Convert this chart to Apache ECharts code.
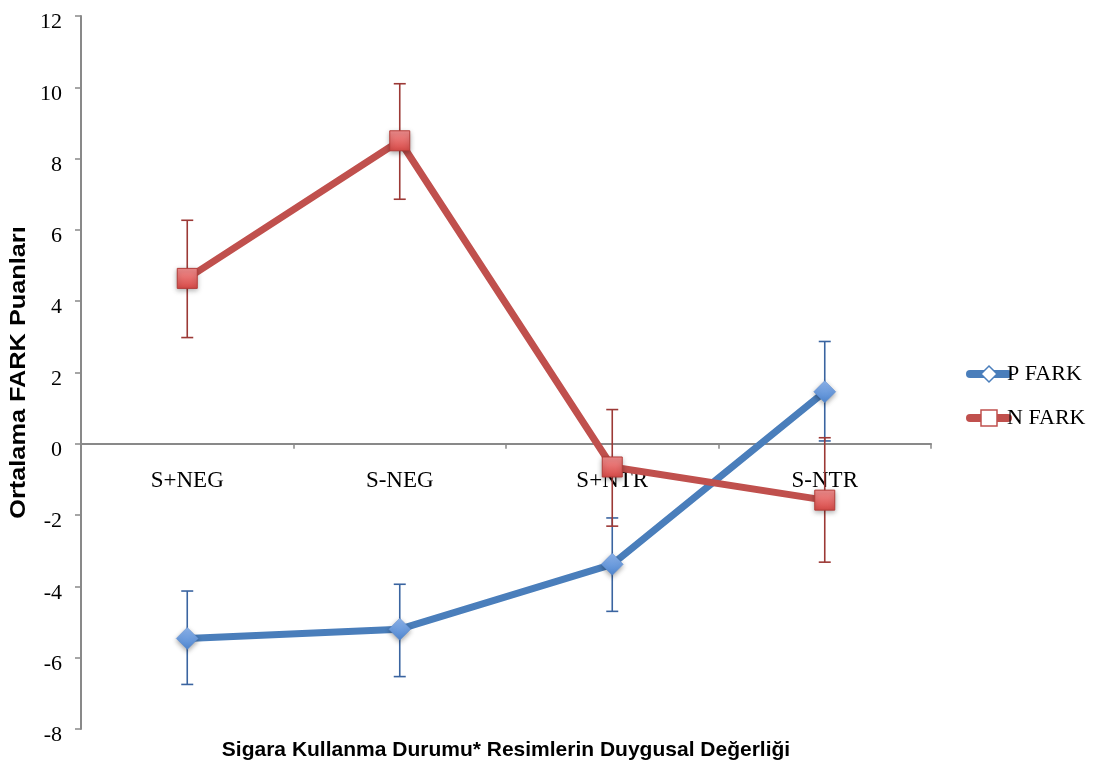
<!DOCTYPE html>
<html>
<head>
<meta charset="utf-8">
<script src="https://cdn.jsdelivr.net/npm/echarts@6/dist/echarts.min.js"></script>
<style>
html,body{margin:0;padding:0;background:#fff;}
#chart{width:1098px;height:766px;}
</style>
</head>
<body>
<div id="chart"></div>
<script>
var categories = ['S+NEG', 'S-NEG', 'S+NTR', 'S-NTR'];
var pMean = [-5.46, -5.20, -3.38, 1.46];
var pUpper = [-4.13, -3.94, -2.08, 2.87];
var pLower = [-6.75, -6.53, -4.70, 0.08];
var nMean = [4.64, 8.50, -0.65, -1.58];
var nUpper = [6.27, 10.10, 0.96, 0.17];
var nLower = [2.98, 6.86, -2.31, -3.32];
var yTicks = {min: -8, max: 12, interval: 2};
var yTitle = 'Ortalama FARK Puanları';
var xTitle = 'Sigara Kullanma Durumu* Resimlerin Duygusal Değerliği';

var W = 1098, H = 766;
var G = {left: 81, right: 167, top: 16, bottom: 37};
var serif = 'Liberation Serif, Times New Roman, serif';
var sans = 'Liberation Sans, Arial, sans-serif';

var chart = echarts.init(document.getElementById('chart'));

function errSeries(up, lo, color) {
  return {
    type: 'custom',
    z: 2,
    silent: true,
    data: categories.map(function (c, i) { return [i, up[i], lo[i]]; }),
    encode: {x: 0, y: [1, 2]},
    renderItem: function (params, api) {
      var x = api.value(0);
      var top = api.coord([x, api.value(1)]);
      var bot = api.coord([x, api.value(2)]);
      var hw = 6;
      var st = {stroke: color, lineWidth: 1.6};
      return {
        type: 'group',
        children: [
          {type: 'line', shape: {x1: top[0], y1: top[1], x2: bot[0], y2: bot[1]}, style: st},
          {type: 'line', shape: {x1: top[0] - hw, y1: top[1], x2: top[0] + hw, y2: top[1]}, style: st},
          {type: 'line', shape: {x1: bot[0] - hw, y1: bot[1], x2: bot[0] + hw, y2: bot[1]}, style: st}
        ]
      };
    }
  };
}

var blue = '#4a7ebb';
var red = '#c0504d';

var option = {
  animation: false,
  backgroundColor: '#fff',
  grid: G,
  legend: {
    orient: 'vertical',
    left: 961, top: 358,
    itemWidth: 38, itemHeight: 20, itemGap: 22,
    textStyle: {fontFamily: serif, fontSize: 22, color: '#000', padding: [0, 0, 0, -6]},
    data: [
      {name: 'P FARK', itemStyle: {color: '#fff', borderColor: blue, borderWidth: 1.5},
        lineStyle: {color: blue, width: 8, cap: 'round'}},
      {name: 'N FARK', itemStyle: {color: '#fff', borderColor: red, borderWidth: 1.5},
        lineStyle: {color: red, width: 8, cap: 'round'}}
    ]
  },
  graphic: [
    {
      type: 'text', x: 19, y: G.top + (H - G.top - G.bottom) / 2, rotation: Math.PI / 2, scaleX: 1.15,
      style: {text: yTitle, font: 'bold 22px ' + sans, fill: '#000', align: 'center', verticalAlign: 'middle'}
    },
    {
      type: 'text', x: G.left + (W - G.left - G.right) / 2, y: 750,
      style: {text: xTitle, font: 'bold 21px ' + sans, fill: '#000', align: 'center', verticalAlign: 'middle'}
    }
  ],
  xAxis: {
    type: 'category',
    data: categories,
    boundaryGap: true,
    axisLine: {onZero: true, lineStyle: {color: '#898989', width: 2}},
    axisTick: {show: true, inside: false, length: 5, lineStyle: {color: '#898989', width: 1.5}},
    axisLabel: {show: false},
    splitLine: {show: false}
  },
  yAxis: {
    type: 'value',
    min: yTicks.min, max: yTicks.max, interval: yTicks.interval,
    axisLine: {show: true, lineStyle: {color: '#898989', width: 2}},
    axisTick: {show: true, length: 6, lineStyle: {color: '#898989', width: 1.5}},
    axisLabel: {margin: 19, fontFamily: serif, fontSize: 22, color: '#000', verticalAlign: 'top', lineHeight: 13},
    splitLine: {show: false}
  },
  series: [
    {
      type: 'custom',
      z: 1,
      silent: true,
      data: categories.map(function (c, i) { return [i, 0]; }),
      encode: {x: 0, y: 1},
      renderItem: function (params, api) {
        var p = api.coord([api.value(0), api.value(1)]);
        return {
          type: 'text', x: p[0], y: p[1] + 26,
          style: {text: categories[params.dataIndex], font: '23px ' + serif, fill: '#000', align: 'center', verticalAlign: 'top'}
        };
      }
    },
    errSeries(pUpper, pLower, '#3a64a0'),
    errSeries(nUpper, nLower, '#9c3936'),
    {
      name: 'P FARK', type: 'line', z: 3, data: pMean,
      symbol: 'diamond', symbolSize: 22,
      lineStyle: {color: blue, width: 7},
      itemStyle: {
        color: new echarts.graphic.LinearGradient(0, 0, 0, 1, [{offset: 0, color: '#8db4ec'}, {offset: 1, color: '#4f86cf'}]),
        borderColor: '#5a8ad0', borderWidth: 0.5,
        shadowBlur: 5, shadowColor: 'rgba(0,0,0,0.35)', shadowOffsetY: 2
      }
    },
    {
      name: 'N FARK', type: 'line', z: 3, data: nMean,
      symbol: 'rect', symbolSize: 20,
      lineStyle: {color: red, width: 7},
      itemStyle: {
        color: new echarts.graphic.LinearGradient(0, 0, 0, 1, [{offset: 0, color: '#f39090'}, {offset: 1, color: '#d64a47'}]),
        borderColor: '#b33c39', borderWidth: 1,
        shadowBlur: 5, shadowColor: 'rgba(0,0,0,0.35)', shadowOffsetY: 2
      }
    }
  ]
};
chart.setOption(option);
</script>
</body>
</html>
